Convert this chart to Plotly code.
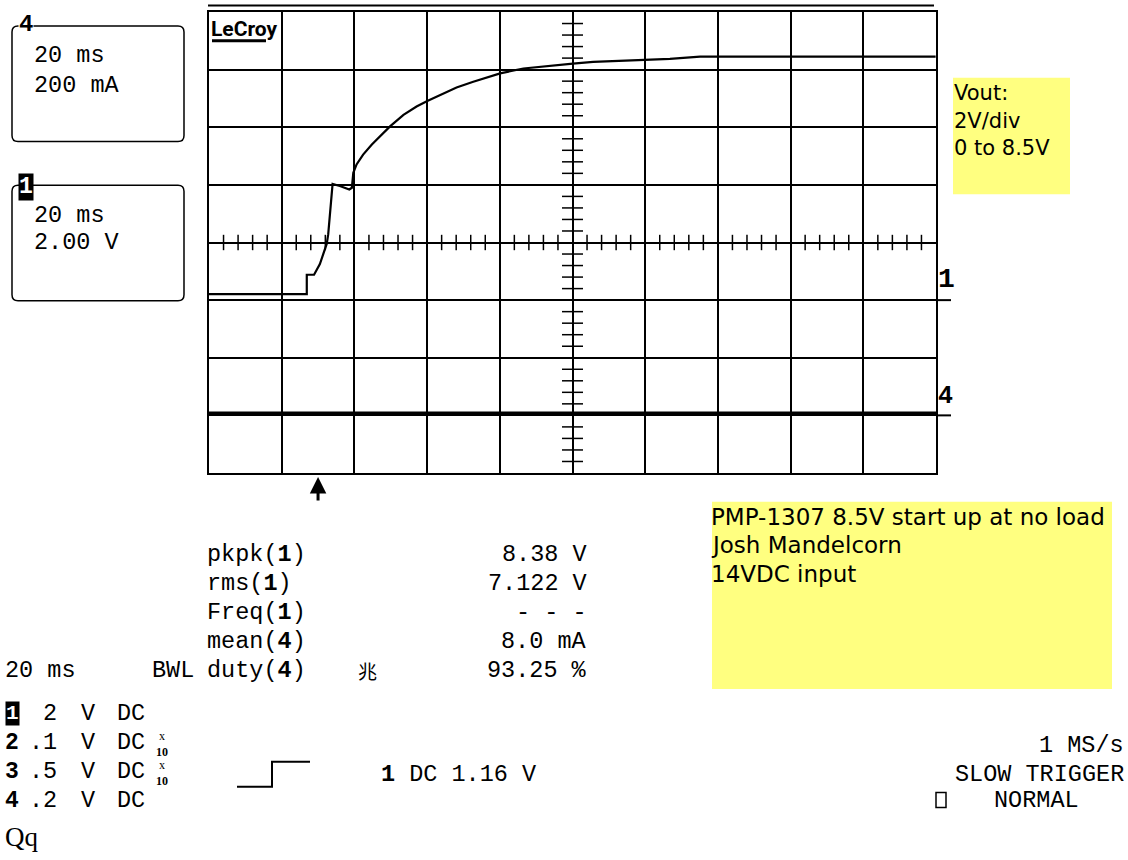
import plotly.graph_objects as go

# ---- channel 1 (Vout) capture, time from left edge of screen in ms ----
ch1_time_ms = [0.0, 26.9, 26.9, 28.9, 30.5, 31.4, 32.4, 32.8, 33.1, 33.5, 34.0,
               36.0, 38.6, 39.3, 39.7, 40.6, 42.4, 44.8, 47.0, 49.8, 53.5,
               57.1, 60.2, 64.5, 68.1, 72.7, 77.3, 80.1, 86.5, 92.9, 100.1,
               105.7, 114.0, 126.8, 135.1, 199.9]
ch1_volts = [0.21, 0.21, 0.88, 0.88, 1.25, 1.59, 1.96, 2.29, 2.75, 3.21, 4.03,
             3.96, 3.84, 3.90, 4.42, 4.71, 5.05, 5.40, 5.68, 6.03, 6.43,
             6.72, 6.92, 7.18, 7.38, 7.58, 7.76, 7.87, 8.04, 8.13, 8.21,
             8.27, 8.31, 8.37, 8.45, 8.45]

# ---- channel 4 (input current) ----
ch4_time_ms = [0.0, 200.0]
ch4_ma = [8.0, 8.0]

# ---- trigger ----
trigger_time_ms = 30.0
trigger_level_v = 1.16

# ---- screen settings ----
time_per_div_ms = 20
ch1_volts_per_div = 2
ch1_center_v = 2          # channel 1 ground sits one division below centre
ch4_ma_per_div = 200
ch4_center_ma = 600       # channel 4 ground sits three divisions below centre

# ---- readouts ----
meas_names = ["pkpk(<b>1</b>)", "rms(<b>1</b>)", "Freq(<b>1</b>)", "mean(<b>4</b>)", "duty(<b>4</b>)"]
meas_values = ["8.38 V", "7.122 V", "- - -", "8.0 mA", "93.25 %"]
chan_ids = ["1", "2", "3", "4"]
chan_scale = ["2", ".1", ".5", ".2"]
chan_probe_x10 = [False, True, True, False]
note_vout = ["Vout:", "2V/div", "0 to 8.5V"]
note_setup = ["PMP-1307 8.5V start up at no load", "Josh Mandelcorn", "14VDC input"]

W, H = 1128, 860
L, R, T, B = 209, 936, 10, 473
MONO = "Liberation Mono"
SANS = "DejaVu Sans"
YELLOW = "#ffff80"


def px(x):
    return (x - L) / (R - L)


def py(y):
    return (B - y) / (B - T)


annotations = []
shapes = []


def text(x, y, s, size=23.5, xanchor="left", family=MONO, color="black", bg=None, yanchor="middle"):
    a = dict(x=px(x), y=py(y), xref="paper", yref="paper", text=s, showarrow=False,
             xanchor=xanchor, yanchor=yanchor, font=dict(family=family, size=size, color=color),
             borderpad=0)
    if bg:
        a["bgcolor"] = bg
    annotations.append(a)


def seg(x0, y0, x1, y1, w=2):
    shapes.append(dict(type="line", xref="paper", yref="paper", x0=px(x0), y0=py(y0),
                       x1=px(x1), y1=py(y1), line=dict(color="black", width=w)))


def rounded_box(x0, y0, x1, y1, r=6):
    p = lambda x, y: f"{px(x):.5f},{py(y):.5f}"
    path = (f"M {p(x0 + r, y0)} L {p(x1 - r, y0)} Q {p(x1, y0)} {p(x1, y0 + r)} "
            f"L {p(x1, y1 - r)} Q {p(x1, y1)} {p(x1 - r, y1)} L {p(x0 + r, y1)} "
            f"Q {p(x0, y1)} {p(x0, y1 - r)} L {p(x0, y0 + r)} Q {p(x0, y0)} {p(x0 + r, y0)} Z")
    shapes.append(dict(type="path", xref="paper", yref="paper", path=path,
                       line=dict(color="black", width=1.5)))


def yellow(x0, y0, x1, y1):
    shapes.append(dict(type="rect", xref="paper", yref="paper", x0=px(x0), y0=py(y1),
                       x1=px(x1), y1=py(y0), fillcolor=YELLOW, line=dict(width=0), layer="below"))


fig = go.Figure()

# graticule ticks along the centre lines (fifths of a division)
n_div_x = 10
n_div_y = 8
x_ticks = [i * time_per_div_ms / 5 for i in range(n_div_x * 5 + 1) if i % 5]
y_ticks = [ch1_center_v + (i - n_div_y * 5 // 2) * ch1_volts_per_div / 5
           for i in range(n_div_y * 5 + 1) if i % 5]
x_mid = time_per_div_ms * n_div_x / 2
fig.add_trace(go.Scatter(x=x_ticks, y=[ch1_center_v] * len(x_ticks), mode="markers",
                         marker=dict(symbol="line-ns", size=11, line=dict(color="black", width=1.5)),
                         hoverinfo="skip"))
fig.add_trace(go.Scatter(x=[x_mid] * len(y_ticks), y=y_ticks, mode="markers",
                         marker=dict(symbol="line-ew", size=15, line=dict(color="black", width=1.5)),
                         hoverinfo="skip"))

# waveforms
fig.add_trace(go.Scatter(x=ch1_time_ms, y=ch1_volts, mode="lines",
                         line=dict(color="black", width=2.2)))
fig.add_trace(go.Scatter(x=ch4_time_ms, y=ch4_ma, mode="lines", yaxis="y2",
                         line=dict(color="black", width=3)))

# trigger level marker on the left edge
fig.add_trace(go.Scatter(x=[-2.9], y=[trigger_level_v], mode="markers", cliponaxis=False,
                         marker=dict(symbol="triangle-right", size=11, color="black")))

# trigger time arrow under the graticule
annotations.append(dict(x=trigger_time_ms, y=py(477), xref="x", yref="paper", text="",
                        showarrow=True, ax=0, ay=25, arrowhead=2, arrowsize=1.1,
                        arrowwidth=3, arrowcolor="black"))

# channel ground markers on the right edge
for yref, lvl in (("y", 0), ("y2", 0)):
    shapes.append(dict(type="line", xref="paper", yref=yref, x0=1.0, x1=px(951),
                       y0=lvl, y1=lvl, line=dict(color="black", width=2)))
text(937, 279, "<b>1</b>", size=28)
text(937, 396, "<b>4</b>", size=25)

# top rule and logo
seg(208, 3.5, 934, 3.5, 2)
text(210, 27, "<b>LeCroy</b>", size=21, family="Roboto")
seg(212, 39, 266, 39, 3)

# channel boxes on the left
rounded_box(12, 24, 184, 140)
text(26, 23, "<b>4</b>", size=24, xanchor="center", bg="white")
text(33, 54, "20 ms")
text(33, 84, "200 mA")
rounded_box(12, 184, 184, 300)
text(26, 186, "<b>1</b>", size=23, xanchor="center", color="white", bg="black")
text(33, 214, "20 ms")
text(33, 242, "2.00 V")

# yellow notes
yellow(953, 76, 1070, 193)
for i, s in enumerate(note_vout):
    text(953, 91 + i * 28, s, size=21, family=SANS)
yellow(712, 502, 1112, 690)
for i, s in enumerate(note_setup):
    text(710, 517 + i * 28.5, s, size=23, family=SANS)

# measurement readouts
for i, (n, v) in enumerate(zip(meas_names, meas_values)):
    yy = 555 + i * 29
    text(206, yy, n)
    text(588, yy, v, xanchor="right")
text(367, 671, "兆", size=19, xanchor="center", family="Noto Sans CJK SC")
text(4, 671, "20 ms")
text(195, 671, "BWL", xanchor="right")

# channel settings table
for i, (cid, sc, x10) in enumerate(zip(chan_ids, chan_scale, chan_probe_x10)):
    yy = 715 + i * 29
    if i == 0:
        text(12, yy, "<b>" + cid + "</b>", size=21, xanchor="center", color="white", bg="black")
    else:
        text(12, yy, "<b>" + cid + "</b>", size=23, xanchor="center")
    text(58, yy, sc, xanchor="right")
    text(88, yy, "V", xanchor="center")
    text(116, yy, "DC")
    if x10:
        text(162, yy + 1, "x<br><b>10</b>", size=12, xanchor="center", family="Liberation Serif")

# trigger setup
shapes.append(dict(type="path", xref="paper", yref="paper",
                   path=f"M {px(237)},{py(788)} L {px(272)},{py(788)} L {px(272)},{py(763)} L {px(310)},{py(763)}",
                   line=dict(color="black", width=2)))
text(380, 776, "<b>1</b> DC 1.16 V")

# acquisition status
text(1125, 747, "1 MS/s", xanchor="right")
text(1125, 776, "SLOW TRIGGER", xanchor="right")
shapes.append(dict(type="rect", xref="paper", yref="paper", x0=px(936), x1=px(946),
                   y0=py(809), y1=py(794), line=dict(color="black", width=1.5)))
text(993, 802, "NORMAL")

text(4, 839, "Qq", size=27, family="Liberation Serif")

axis_common = dict(showgrid=True, gridcolor="black", gridwidth=1.5, zeroline=False,
                   showticklabels=False, ticks="", showline=True, linecolor="black",
                   linewidth=2, mirror=True)
fig.update_layout(
    width=W, height=H,
    margin=dict(l=L, r=W - R, t=T, b=H - B, pad=0),
    paper_bgcolor="white", plot_bgcolor="white",
    showlegend=False,
    xaxis=dict(range=[0, time_per_div_ms * n_div_x], tick0=0, dtick=time_per_div_ms, **axis_common),
    yaxis=dict(range=[ch1_center_v - ch1_volts_per_div * n_div_y / 2,
                      ch1_center_v + ch1_volts_per_div * n_div_y / 2],
               tick0=0, dtick=ch1_volts_per_div, **axis_common),
    yaxis2=dict(range=[ch4_center_ma - ch4_ma_per_div * n_div_y / 2,
                       ch4_center_ma + ch4_ma_per_div * n_div_y / 2],
                overlaying="y", visible=False),
    annotations=annotations,
    shapes=shapes,
)

fig.write_html("out.html")
